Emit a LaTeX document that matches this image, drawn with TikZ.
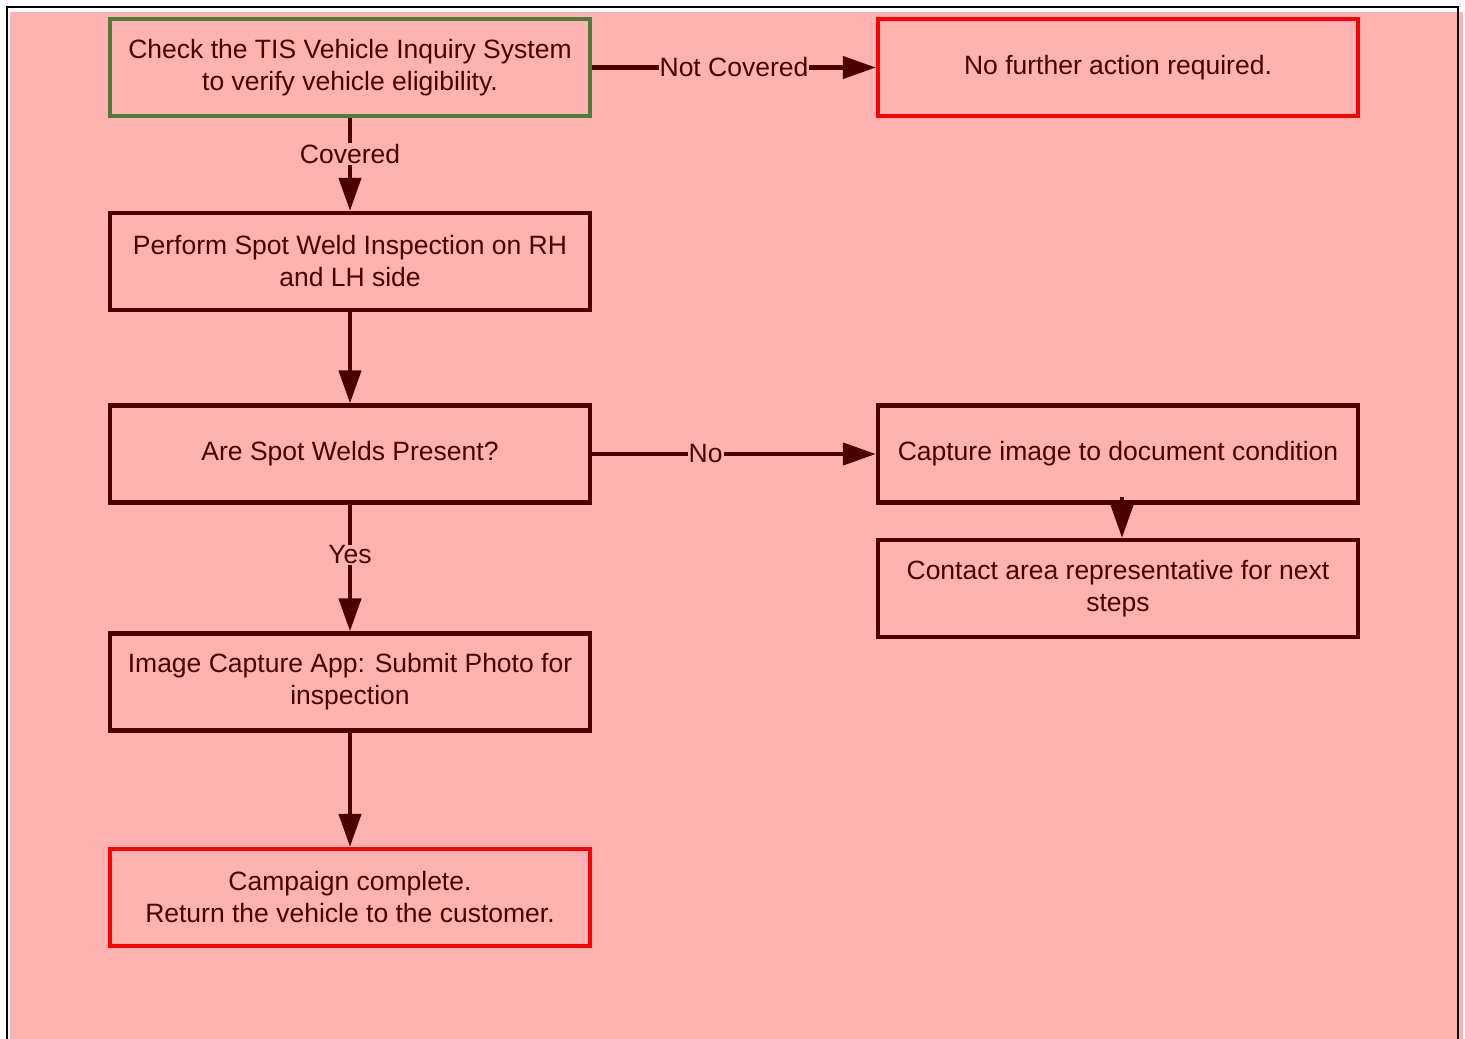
\documentclass[tikz,border=0pt]{standalone}
\usepackage{fontspec}
\setmainfont{Liberation Sans}
\usetikzlibrary{arrows.meta}
\definecolor{bgpink}{RGB}{255,178,178}
\definecolor{dark}{RGB}{77,0,0}
\definecolor{boxgreen}{RGB}{78,125,58}
\definecolor{boxred}{RGB}{255,0,0}
\tikzset{
  stepbox/.style={draw=dark, line width=4.3pt, rectangle, minimum width=480pt, minimum height=97pt,
    inner sep=0pt, align=center, text=dark, font=\fontsize{26.5}{32}\selectfont},
  startbox/.style={stepbox, draw=boxgreen},
  endbox/.style={stepbox, draw=boxred},
  arr/.style={draw=dark, line width=4.3pt, -{Triangle[length=33pt,width=22pt]}},
  elabel/.style={fill=bgpink, text=dark, inner sep=1pt, font=\fontsize{26.5}{32}\selectfont}
}
\begin{document}
\begin{tikzpicture}[x=1pt,y=-1pt]
\useasboundingbox (0,0) rectangle (1465,1039);
\fill[bgpink] (10,12) rectangle (1463,1039);
\draw[black, line width=2.5pt] (7,1045) -- (7,7) -- (1458,7) -- (1458,1045);

\node[startbox] (check) at (350,67.5) {Check the TIS Vehicle Inquiry System\\to verify vehicle eligibility.};
\node[endbox] (nofurther) at (1118,67.5) {No further action required.};
\node[stepbox] (inspect) at (350,261.5) {Perform Spot Weld Inspection on RH\\and LH side};
\node[stepbox] (present) at (350,454) {Are Spot Welds Present?};
\node[stepbox] (capture) at (1118,454) {Capture image to document condition};
\node[stepbox] (contact) at (1118,588.5) {Contact area representative for next\\steps};
\node[stepbox] (app) at (350,682) {Image Capture App: Submit Photo for\\inspection};
\node[endbox] (done) at (350,897.5) {Campaign complete.\\Return the vehicle to the customer.};

\draw[arr] (check) -- node[elabel, pos=0.5] {Not Covered} (nofurther);
\draw[arr] (check) -- node[elabel, pos=0.385] {Covered} (inspect);
\draw[arr] (inspect) -- (present);
\draw[arr] (present) -- node[elabel, pos=0.4] {No} (capture);
\draw[arr] (present) -- node[elabel, pos=0.397] {Yes} (app);
\draw[arr] (app) -- (done);
\coordinate (capfoot) at (1122,497);
\draw[arr] (capfoot) -- (capfoot |- contact.north);
\end{tikzpicture}
\end{document}
